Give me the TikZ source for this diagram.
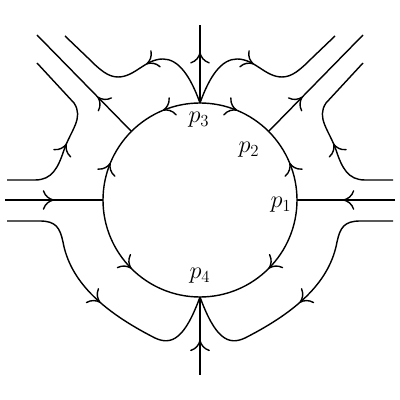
\documentclass[tikz,border=0pt]{standalone}
\usetikzlibrary{arrows.meta,decorations.markings}
\begin{document}
\begin{tikzpicture}[x=.025cm,y=.025cm,line width=1pt,
    flow/.style={postaction={decorate},decoration={markings,
      mark=at position #1 with {\arrow{To[length=8pt,width=14pt]}}}},
    lab/.style={font=\fontsize{18}{20}\selectfont,inner sep=0pt}]
  \useasboundingbox (0,0) rectangle (400,400);
  \coordinate (c) at (200,200); \coordinate (w) at (103,200);
  \coordinate (p1) at (297,200); \coordinate (p3) at (200,297); \coordinate (p4) at (200,103);
  \coordinate (nw) at (131.4,268.6); \coordinate (ne) at (268.6,268.6);
  \draw[flow=.5] (w) arc (180:135:97); \draw[flow=.5] (p3) arc (90:135:97);
  \draw[flow=.5] (p3) arc (90:45:97); \draw[flow=.5] (p1) arc (0:45:97);
  \draw[flow=.5] (w) arc (180:270:97); \draw[flow=.5] (p1) arc (360:270:97);
  \coordinate (wend) at (5,200); \coordinate (eend) at (395,200);
  \coordinate (nend) at (200,375); \coordinate (send) at (200,25);
  \coordinate (nwend) at (37,365); \coordinate (neend) at (363,365);
  \draw[flow=.5] (wend) -- (w); \draw[flow=.53] (eend) -- (p1);
  \draw[flow=.65] (p3) -- (nend); \draw[flow=.45] (send) -- (p4);
  \draw[flow=.36] (nw) -- (nwend); \draw[flow=.36] (ne) -- (neend);
  \draw[flow=.44] (p3) .. controls (190,325) and (178,341) .. (163,341)
    .. controls (145,341) and (135,323) .. (118,323) .. controls (108,323) and (100,330) .. (88,342) -- (65,364);
  \draw[flow=.44] (p3) .. controls (210,325) and (222,341) .. (237,341)
    .. controls (255,341) and (265,323) .. (282,323) .. controls (292,323) and (300,330) .. (312,342) -- (335,364);
  \draw[flow=.45] (7,220) -- (35,220) .. controls (52,220) and (58,232) .. (64,250)
    .. controls (71,270) and (84,282) .. (74,297) -- (37,337);
  \draw[flow=.45] (393,220) -- (365,220) .. controls (348,220) and (342,232) .. (336,250)
    .. controls (329,270) and (316,282) .. (326,297) -- (363,337);
  \draw[flow=.51] (7,179) -- (40,179) .. controls (56,179) and (60,172) .. (63,158)
    .. controls (70,120) and (100,90) .. (155,62) .. controls (172,54) and (185,62) .. (p4);
  \draw[flow=.51] (393,179) -- (360,179) .. controls (344,179) and (340,172) .. (337,158)
    .. controls (330,120) and (300,90) .. (245,62) .. controls (228,54) and (215,62) .. (p4);
  \node[lab] (l3) at (199,280) {$p_3$}; \node[lab] (l2) at (249,250) {$p_2$};
  \node[lab] (l1) at (281,195) {$p_1$}; \node[lab] (l4) at (200,124) {$p_4$};
\end{tikzpicture}
\end{document}
